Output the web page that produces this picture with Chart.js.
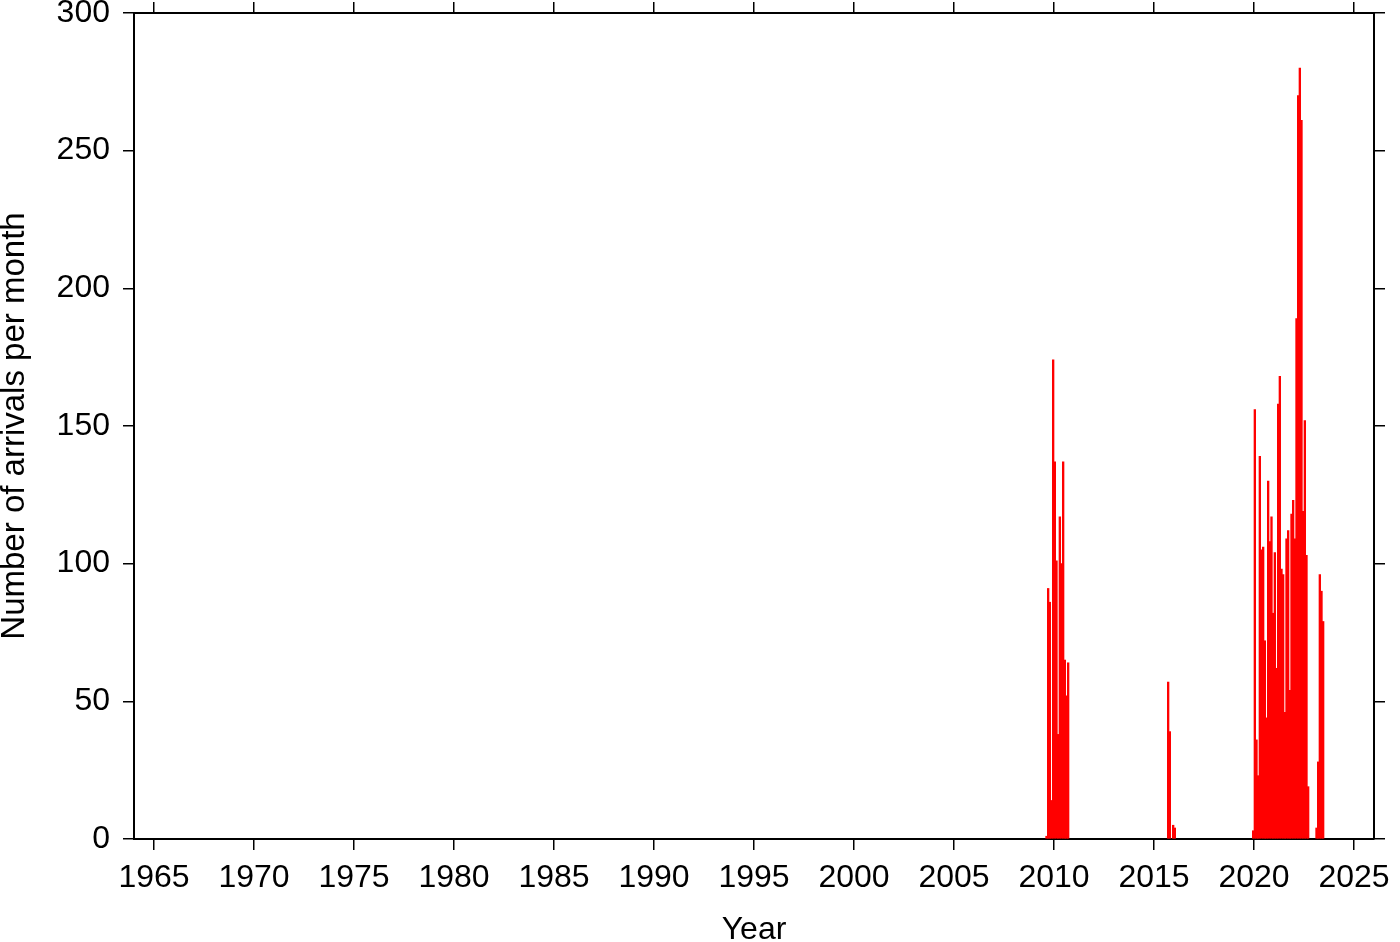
<!DOCTYPE html>
<html>
<head>
<meta charset="utf-8">
<title>Number of arrivals per month</title>
<script src="https://cdn.jsdelivr.net/npm/chart.js@4.4.0/dist/chart.umd.min.js"></script>
<style>
  html, body { margin: 0; padding: 0; background: #fff; }
  canvas { display: block; }
</style>
</head>
<body>
<canvas id="arrivalsChart" width="1400" height="942"></canvas>
<script>
// months with arrivals (all other months are zero)
const months = [
  '2009-08', '2009-09', '2009-10', '2009-11', '2009-12',
  '2010-01', '2010-02', '2010-03', '2010-04', '2010-05', '2010-06', '2010-07', '2010-08', '2010-09',
  '2015-09', '2015-10', '2015-12', '2016-01',
  '2019-12',
  '2020-01', '2020-02', '2020-03', '2020-04', '2020-05', '2020-06',
  '2020-07', '2020-08', '2020-09', '2020-10', '2020-11', '2020-12',
  '2021-01', '2021-02', '2021-03', '2021-04', '2021-05', '2021-06',
  '2021-07', '2021-08', '2021-09', '2021-10', '2021-11', '2021-12',
  '2022-01', '2022-02', '2022-03', '2022-04', '2022-05', '2022-06',
  '2022-07', '2022-08', '2022-09',
  '2023-02', '2023-03', '2023-04', '2023-05', '2023-06'
];
const arrivals = [
  1, 91, 86, 14, 174,
  137, 101, 38, 117, 100, 137, 65, 52, 64,
  57, 39, 5, 4,
  3,
  156, 36, 23, 139, 105, 106,
  72, 44, 130, 108, 117, 82,
  104, 62, 158, 168, 98, 96,
  46, 109, 112, 54, 118, 123,
  109, 189, 270, 280, 261, 119,
  152, 103, 19,
  4, 28, 96, 90, 79
];
const yearTicks = [1965, 1970, 1975, 1980, 1985, 1990, 1995, 2000, 2005, 2010, 2015, 2020, 2025];
const countTicks = [0, 50, 100, 150, 200, 250, 300];

const font = { family: "'Liberation Sans', Helvetica, Arial, sans-serif", size: 32 };

// bar sits in the middle of its month
function monthToYear(m) {
  const parts = m.split('-').map(Number);
  return parts[0] + (parts[1] - 0.5) / 12;
}
const points = months.map((m, i) => ({ x: monthToYear(m), y: arrivals[i] }));

const tickGrid = {
  display: true,
  drawOnChartArea: false,
  drawTicks: true,
  tickLength: 11,
  color: '#000',
  lineWidth: 1.5,
  offset: false
};
const frame = { display: true, color: '#000', width: 2 };

// fixed box sizes so the plot frame lands where the original one is
function fixBox(size) {
  return axis => {
    if (axis.isHorizontal()) axis.height = size; else axis.width = size;
    axis.paddingTop = 0;
    axis.paddingBottom = 0;
    axis.paddingLeft = 0;
    axis.paddingRight = 0;
  };
}

const ctx = document.getElementById('arrivalsChart');

new Chart(ctx, {
  type: 'bar',
  data: {
    datasets: [{
      label: 'Arrivals',
      data: points,
      backgroundColor: '#ff0000',
      borderWidth: 0,
      barPercentage: 1,
      categoryPercentage: 1,
      xAxisID: 'x',
      yAxisID: 'y'
    }]
  },
  options: {
    responsive: false,
    animation: false,
    events: [],
    layout: { padding: 0 },
    plugins: {
      legend: { display: false },
      tooltip: { enabled: false }
    },
    scales: {
      x: {
        type: 'linear',
        position: 'bottom',
        min: 1964,
        max: 2026,
        offset: false,
        grid: tickGrid,
        border: frame,
        afterBuildTicks: axis => { axis.ticks = yearTicks.map(v => ({ value: v })); },
        afterFit: fixBox(103),
        ticks: {
          color: '#000',
          font: font,
          padding: 9,
          maxRotation: 0,
          autoSkip: false,
          callback: v => String(v)
        },
        title: {
          display: true,
          text: 'Year',
          color: '#000',
          font: { family: font.family, size: 32, lineHeight: 0.75 },
          padding: { top: 0, bottom: 0 }
        }
      },
      x2: {
        type: 'linear',
        position: 'top',
        display: true,
        min: 1964,
        max: 2026,
        offset: false,
        grid: tickGrid,
        border: frame,
        afterBuildTicks: axis => { axis.ticks = yearTicks.map(v => ({ value: v })); },
        afterFit: fixBox(13),
        ticks: { display: false }
      },
      y: {
        type: 'linear',
        position: 'left',
        min: 0,
        max: 300,
        grid: tickGrid,
        border: frame,
        afterBuildTicks: axis => { axis.ticks = countTicks.map(v => ({ value: v })); },
        afterFit: fixBox(134),
        ticks: {
          color: '#000',
          font: font,
          padding: 13,
          callback: v => String(v)
        },
        title: {
          display: true,
          text: 'Number of arrivals per month',
          color: '#000',
          font: { family: font.family, size: 33, lineHeight: 0.75 },
          padding: { top: 3, bottom: 0 }
        }
      },
      y2: {
        type: 'linear',
        position: 'right',
        display: true,
        min: 0,
        max: 300,
        grid: tickGrid,
        border: frame,
        afterBuildTicks: axis => { axis.ticks = countTicks.map(v => ({ value: v })); },
        afterFit: fixBox(26),
        ticks: { display: false }
      }
    }
  }
});
</script>
</body>
</html>
